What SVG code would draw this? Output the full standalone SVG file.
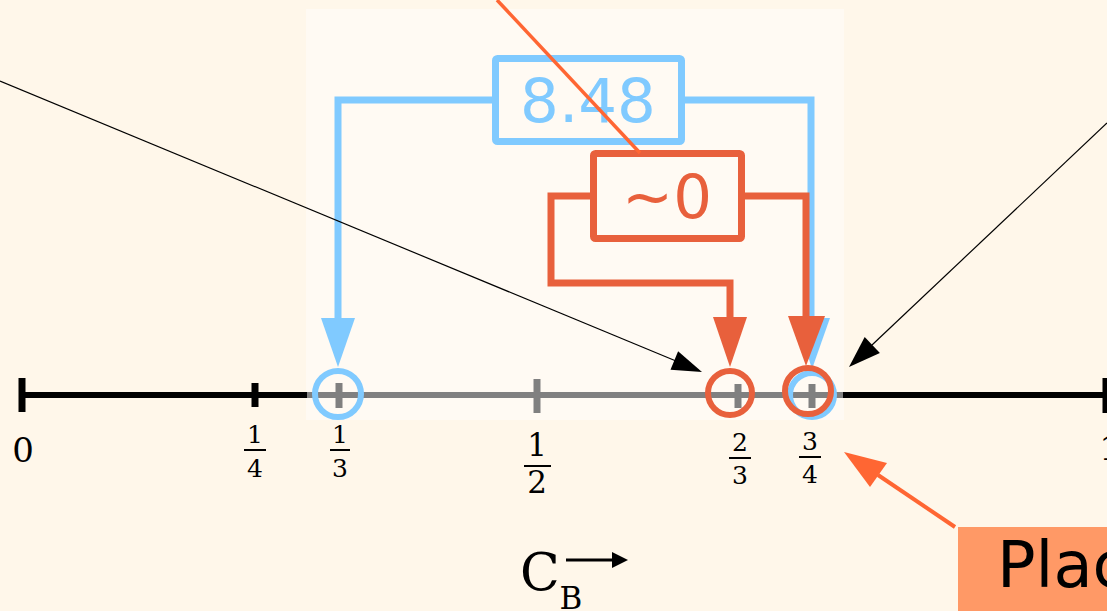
<svg xmlns="http://www.w3.org/2000/svg" width="1107" height="611" viewBox="0 0 1107 611">
<defs>
<style>
.lbl{font-family:"DejaVu Serif","Liberation Serif",serif;fill:#000;text-anchor:middle}
.frac{font-size:25px}
.bar{stroke:#000;stroke-width:2}
.blue{stroke:#80CAFF;fill:none;stroke-width:7}
.orange{stroke:#E8603C;fill:none;stroke-width:7}
.thin{stroke:#000;stroke-width:1.2;fill:none}
.box-text{font-family:"DejaVu Sans","Liberation Sans",sans-serif;font-size:61px;text-anchor:middle}
</style>
</defs>
<rect x="0" y="0" width="1107" height="611" fill="#FFF7EA"/>
<rect x="306" y="9" width="538" height="411" fill="#FFFAF3"/>

<g id="axis">
<line x1="22" y1="395" x2="307" y2="395" stroke="#000" stroke-width="6"/>
<line x1="307" y1="395" x2="843" y2="395" stroke="#808080" stroke-width="6"/>
<line x1="843" y1="395" x2="1107" y2="395" stroke="#000" stroke-width="6"/>
<line x1="22" y1="378" x2="22" y2="412" stroke="#000" stroke-width="7"/>
<line x1="255" y1="383" x2="255" y2="407" stroke="#000" stroke-width="7"/>
<line x1="1106" y1="378" x2="1106" y2="413" stroke="#000" stroke-width="7"/>
<line x1="339" y1="383" x2="339" y2="408" stroke="#808080" stroke-width="7"/>
<line x1="537" y1="379" x2="537" y2="413" stroke="#808080" stroke-width="7"/>
<line x1="738" y1="384" x2="738" y2="408" stroke="#808080" stroke-width="7"/>
<line x1="812" y1="384" x2="812" y2="408" stroke="#808080" stroke-width="7"/>
</g>

<g id="labels">
<text class="lbl" x="23" y="462" font-size="34">0</text>
<text class="lbl" x="1110" y="460" font-size="34">1</text>
<g id="f14"><text class="lbl frac" x="255" y="443">1</text><line class="bar" x1="244" y1="450" x2="266" y2="450"/><text class="lbl frac" x="255" y="477">4</text></g>
<g id="f13"><text class="lbl frac" x="340" y="443">1</text><line class="bar" x1="330" y1="450" x2="350" y2="450"/><text class="lbl frac" x="340" y="477">3</text></g>
<g id="f12"><text class="lbl" font-size="31" x="537" y="456">1</text><line class="bar" stroke-width="2.5" x1="524" y1="466" x2="551" y2="466"/><text class="lbl" font-size="31" x="537" y="493">2</text></g>
<g id="f23"><text class="lbl frac" x="740" y="451">2</text><line class="bar" x1="729" y1="458" x2="751" y2="458"/><text class="lbl frac" x="740" y="484">3</text></g>
<g id="f34"><text class="lbl frac" x="810" y="450">3</text><line class="bar" x1="799" y1="457" x2="821" y2="457"/><text class="lbl frac" x="810" y="483">4</text></g>
<g id="cb">
<text x="540" y="590" font-family="DejaVu Serif, Liberation Serif, serif" font-size="52" text-anchor="middle">C</text>
<text x="571" y="609" font-family="DejaVu Serif, Liberation Serif, serif" font-size="31" text-anchor="middle">B</text>
<line x1="566" y1="560" x2="614" y2="560" stroke="#000" stroke-width="3"/>
<polygon points="612,552 628,560 612,568" fill="#000"/>
</g>
</g>

<g id="connectors">
<path class="blue" d="M495,100 H338 V320"/>
<polygon points="321,318 355,318 338,367" fill="#80CAFF"/>
<path class="blue" d="M682,100 H811 V320"/>
<polygon points="796,318 830,318 812,369" fill="#80CAFF"/>
<path class="orange" d="M593,196 H551 V283 H730 V320"/>
<polygon points="713,317 747,317 730,367" fill="#E8603C"/>
<path class="orange" d="M742,196 H806 V320"/>
<polygon points="788,316 825,316 806,366" fill="#E8603C"/>
<line class="thin" x1="0" y1="81" x2="676" y2="361"/>
<polygon points="702,372 670.5,369.7 678.1,351.3" fill="#000"/>
<line class="thin" x1="1107" y1="123" x2="872" y2="345"/>
<polygon points="849,367 864.7,337 879.9,353" fill="#000"/>
<line x1="878" y1="475" x2="955" y2="527" stroke="#FF6633" stroke-width="4"/>
<polygon points="844,452 887,463 870,487" fill="#FF6633"/>
</g>

<g id="markers">
<circle cx="338" cy="394" r="23" fill="none" stroke="#80CAFF" stroke-width="6"/>
<circle cx="812" cy="395" r="22" fill="none" stroke="#80CAFF" stroke-width="6"/>
<circle cx="730" cy="393" r="22" fill="none" stroke="#E8603C" stroke-width="6"/>
<circle cx="808" cy="391" r="23" fill="none" stroke="#E8603C" stroke-width="6"/>
</g>

<g id="box-848">
<rect x="495.5" y="58.5" width="186" height="83" rx="2" fill="#FFFAF3" stroke="#80CAFF" stroke-width="7"/>
<text class="box-text" x="588" y="122" fill="#80CAFF">8.48</text>
</g>
<g id="box-0">
<rect x="593.5" y="153.5" width="148" height="85" rx="2" fill="#FFFAF3" stroke="#E8603C" stroke-width="7"/>
<text class="box-text" x="667" y="218" fill="#E8603C">~0</text>
</g>
<line x1="497" y1="0" x2="640" y2="153" stroke="#FF6633" stroke-width="3.5"/>

<g id="placeholder">
<rect x="958" y="527" width="160" height="90" fill="#FF9966"/>
<text x="997" y="587" font-family="DejaVu Sans, Liberation Sans, sans-serif" font-size="64" fill="#000">Plac</text>
</g>
</svg>
